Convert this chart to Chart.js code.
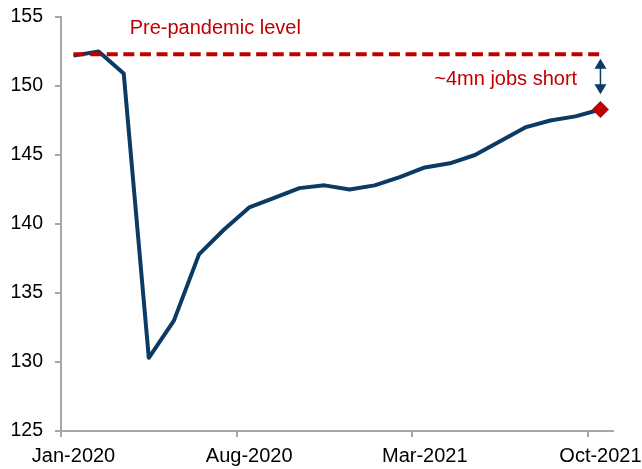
<!DOCTYPE html>
<html>
<head>
<meta charset="utf-8">
<script src="https://cdn.jsdelivr.net/npm/chart.js@4/dist/chart.umd.min.js"></script>
<style>
  html, body { margin: 0; padding: 0; background: #ffffff; }
  #wrap { width: 642px; height: 469px; }
</style>
</head>
<body>
<div id="wrap"><canvas id="c" width="642" height="469"></canvas></div>
<script>
// ---- Data (millions of payroll jobs) ----
const months = ["Jan-2020","Feb-2020","Mar-2020","Apr-2020","May-2020","Jun-2020","Jul-2020","Aug-2020","Sep-2020","Oct-2020","Nov-2020","Dec-2020",
                "Jan-2021","Feb-2021","Mar-2021","Apr-2021","May-2021","Jun-2021","Jul-2021","Aug-2021","Sep-2021","Oct-2021"];
const payrolls = [152.2, 152.5, 150.9, 130.3, 133.0, 137.8, 139.6, 141.2, 141.9, 142.6, 142.8, 142.5,
                  142.8, 143.4, 144.1, 144.4, 145.0, 146.0, 147.0, 147.5, 147.8, 148.3];
const preLevel = 152.3;
const shownTickLabels = ["Jan-2020", "Aug-2020", "Mar-2021", "Oct-2021"];
const yTicks = [125, 130, 135, 140, 145, 150, 155];
const levelLabel = "Pre-pandemic level";
const gapLabel = "~4mn jobs short";

const NAVY = "#0b3a63";
const RED = "#c00000";
const AXIS = "#a6a6a6";
const FONT = "'Liberation Sans', Arial, sans-serif";
const lastIdx = payrolls.length - 1;

const annotations = {
  id: "annotations",
  afterDatasetsDraw(chart) {
    const { ctx, scales: { x, y } } = chart;
    ctx.save();
    // texts
    ctx.fillStyle = RED;
    ctx.font = "20px " + FONT;
    ctx.textBaseline = "middle";
    ctx.textAlign = "center";
    ctx.fillText(levelLabel, x.getPixelForValue(5.65), y.getPixelForValue(154.2));
    ctx.textAlign = "right";
    ctx.fillText(gapLabel, x.getPixelForValue(20.07), y.getPixelForValue(150.5));
    // double arrow
    const ax = x.getPixelForValue(lastIdx);
    const yTop = y.getPixelForValue(151.98);
    const yBot = y.getPixelForValue(149.4);
    const hh = 10, hw = 6;
    ctx.strokeStyle = NAVY;
    ctx.fillStyle = NAVY;
    ctx.lineWidth = 1.5;
    ctx.beginPath();
    ctx.moveTo(ax, yTop + hh - 1);
    ctx.lineTo(ax, yBot - hh + 1);
    ctx.stroke();
    ctx.beginPath();
    ctx.moveTo(ax, yTop);
    ctx.lineTo(ax - hw, yTop + hh);
    ctx.lineTo(ax + hw, yTop + hh);
    ctx.closePath();
    ctx.fill();
    ctx.beginPath();
    ctx.moveTo(ax, yBot);
    ctx.lineTo(ax - hw, yBot - hh);
    ctx.lineTo(ax + hw, yBot - hh);
    ctx.closePath();
    ctx.fill();
    ctx.restore();
  }
};

new Chart(document.getElementById("c"), {
  type: "line",
  data: {
    labels: months,
    datasets: [
      {
        label: "Pre-pandemic level",
        data: months.map(() => preLevel),
        borderColor: RED,
        borderWidth: 4,
        borderDash: [11, 5.6],
        pointRadius: 0,
        fill: false,
        order: 0
      },
      {
        label: "Nonfarm payrolls",
        data: payrolls,
        borderColor: NAVY,
        borderWidth: 4,
        borderJoinStyle: "round",
        tension: 0,
        pointStyle: "rectRot",
        pointRadius: (c) => c.dataIndex === lastIdx ? 8.5 : 0,
        pointHoverRadius: (c) => c.dataIndex === lastIdx ? 8.5 : 0,
        pointBackgroundColor: RED,
        pointBorderColor: RED,
        pointBorderWidth: 0,
        fill: false,
        order: 1
      }
    ]
  },
  options: {
    responsive: false,
    animation: false,
    devicePixelRatio: 1,
    layout: { padding: { left: 0, right: 29, top: 17, bottom: 0 } },
    plugins: { legend: { display: false }, tooltip: { enabled: false } },
    scales: {
      x: {
        type: "category",
        offset: true,
        grid: {
          offset: true,
          drawOnChartArea: false,
          drawTicks: true,
          tickLength: 6,
          lineWidth: 2,
          color: (c) => (c.index % 7 === 0 && c.index < months.length) ? AXIS : "rgba(0,0,0,0)"
        },
        border: { display: true, color: AXIS, width: 2 },
        ticks: {
          autoSkip: false,
          maxRotation: 0,
          padding: 7,
          color: "#000000",
          font: { family: FONT, size: 20 },
          callback: function (v, i) {
            const lab = months[i];
            return shownTickLabels.includes(lab) ? lab : "";
          }
        },
        afterFit(scale) { scale.height = 38; scale.paddingLeft = 0; scale.paddingRight = 0; }
      },
      y: {
        min: 125,
        max: 155,
        afterBuildTicks(scale) { scale.ticks = yTicks.map(v => ({ value: v })); },
        grid: {
          drawOnChartArea: false,
          drawTicks: true,
          tickLength: 6,
          lineWidth: 2,
          color: AXIS
        },
        border: { display: true, color: AXIS, width: 2 },
        ticks: {
          padding: 12,
          color: "#000000",
          font: { family: FONT, size: 19.5 }
        },
        afterFit(scale) { scale.width = 61; scale.paddingTop = 0; scale.paddingBottom = 0; }
      }
    }
  },
  plugins: [annotations]
});
</script>
</body>
</html>
